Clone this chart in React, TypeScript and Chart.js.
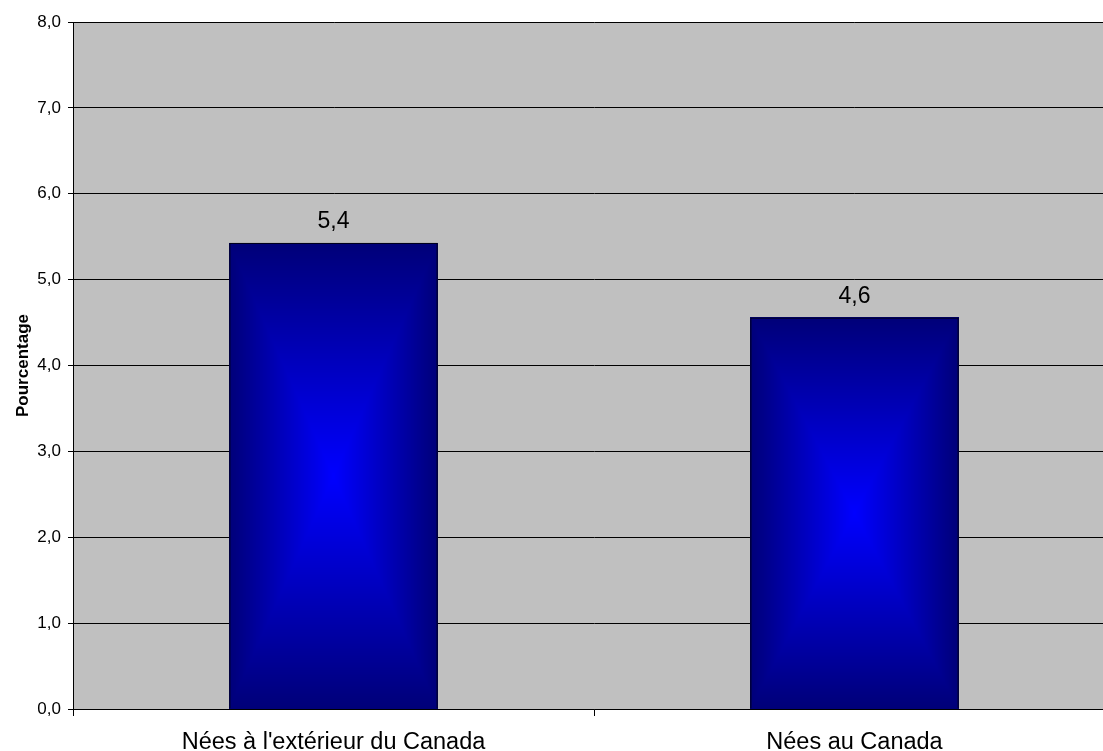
import React, { useEffect, useRef } from "react";
import { Chart, registerables } from "chart.js";

Chart.register(...registerables);

const categories = ["Nées à l'extérieur du Canada", "Nées au Canada"];
const values = [5.43, 4.56];
const dataLabels = ["5,4", "4,6"];
const yMin = 0;
const yMax = 8;
const yStep = 1;
const yTitle = "Pourcentage";

const EDGE = [0, 0, 120];
const CENTER = [0, 0, 255];

const plotBg = {
  id: "plotBg",
  beforeDraw(chart: any) {
    const { ctx, chartArea } = chart;
    ctx.save();
    ctx.fillStyle = "#C0C0C0";
    ctx.fillRect(chartArea.left, chartArea.top, chartArea.right - chartArea.left, chartArea.bottom - chartArea.top);
    ctx.restore();
  },
};

const barGradient = {
  id: "barGradient",
  beforeDatasetsDraw(chart: any) {
    const { ctx } = chart;
    const meta = chart.getDatasetMeta(0);
    meta.data.forEach((bar: any) => {
      const x0 = Math.round(bar.x - bar.width / 2);
      const x1 = Math.round(bar.x + bar.width / 2);
      const y0 = Math.round(Math.min(bar.y, bar.base));
      const y1 = Math.round(Math.max(bar.y, bar.base));
      const w = x1 - x0;
      const h = y1 - y0;
      if (w <= 0 || h <= 0) return;
      const off = document.createElement("canvas");
      off.width = w;
      off.height = h;
      const octx = off.getContext("2d")!;
      const img = octx.createImageData(w, h);
      const hw = w / 2;
      const hh = h / 2;
      for (let j = 0; j < h; j++) {
        for (let i = 0; i < w; i++) {
          const dx = Math.abs(i + 0.5 - hw) / hw;
          const dy = Math.abs(j + 0.5 - hh) / hh;
          const t = Math.min(1, Math.max(dx, dy));
          const k = (j * w + i) * 4;
          img.data[k] = CENTER[0] + (EDGE[0] - CENTER[0]) * t;
          img.data[k + 1] = CENTER[1] + (EDGE[1] - CENTER[1]) * t;
          img.data[k + 2] = CENTER[2] + (EDGE[2] - CENTER[2]) * t;
          img.data[k + 3] = 255;
        }
      }
      octx.putImageData(img, 0, 0);
      ctx.drawImage(off, x0, y0);
    });
  },
};

const valueLabels = {
  id: "valueLabels",
  afterDatasetsDraw(chart: any) {
    const { ctx } = chart;
    const meta = chart.getDatasetMeta(0);
    ctx.save();
    ctx.fillStyle = "#000";
    ctx.font = "23px 'Liberation Sans', Arial, sans-serif";
    ctx.textAlign = "center";
    ctx.textBaseline = "middle";
    meta.data.forEach((bar: any, i: number) => {
      ctx.fillText(dataLabels[i], bar.x, bar.y - 21);
    });
    ctx.restore();
  },
};

export default function App() {
  const ref = useRef<HTMLCanvasElement>(null);
  useEffect(() => {
    if (!ref.current) return;
    const chart = new Chart(ref.current, {
      type: "bar",
      data: {
        labels: categories,
        datasets: [
          {
            data: values,
            backgroundColor: "rgba(0,0,0,0)",
            borderColor: "#000",
            borderWidth: 1,
            barPercentage: 0.4,
            categoryPercentage: 1,
          },
        ],
      },
      options: {
        responsive: false,
        animation: false,
        layout: { padding: { top: 22, right: 5, left: 0, bottom: 0 } },
        plugins: { legend: { display: false }, tooltip: { enabled: false } },
        scales: {
          x: {
            offset: true,
            grid: { display: true, drawOnChartArea: false, drawTicks: true, tickLength: 7, color: "#000", lineWidth: 1 },
            border: { display: true, color: "#000", width: 1 },
            ticks: {
              color: "#000",
              font: { family: "'Liberation Sans', Arial, sans-serif", size: 23.5 },
              padding: 12,
              maxRotation: 0,
              autoSkip: false,
            },
            afterFit(scale: any) {
              scale.height = 42;
            },
          },
          y: {
            min: yMin,
            max: yMax,
            grid: { color: "#000", lineWidth: 1, tickLength: 5, drawTicks: true },
            border: { display: true, color: "#000", width: 1 },
            ticks: {
              stepSize: yStep,
              color: "#000",
              padding: 7,
              font: { family: "'Liberation Sans', Arial, sans-serif", size: 17 },
              callback: (v: any) => Number(v).toFixed(1).replace(".", ","),
            },
            title: {
              display: true,
              text: yTitle,
              color: "#000",
              font: { family: "'Liberation Sans', Arial, sans-serif", size: 17, weight: "bold" },
              padding: { top: 13, bottom: 0 },
            },
            afterFit(scale: any) {
              scale.width = 73;
            },
          },
        },
      },
      plugins: [plotBg, barGradient, valueLabels],
    });
    return () => chart.destroy();
  }, []);
  return (
    <div style={{ position: "fixed", left: 0, top: 0, width: 1103, height: 751, overflow: "hidden", background: "#fff" }}>
      <canvas ref={ref} width={1120} height={751} style={{ display: "block" }} />
    </div>
  );
}
